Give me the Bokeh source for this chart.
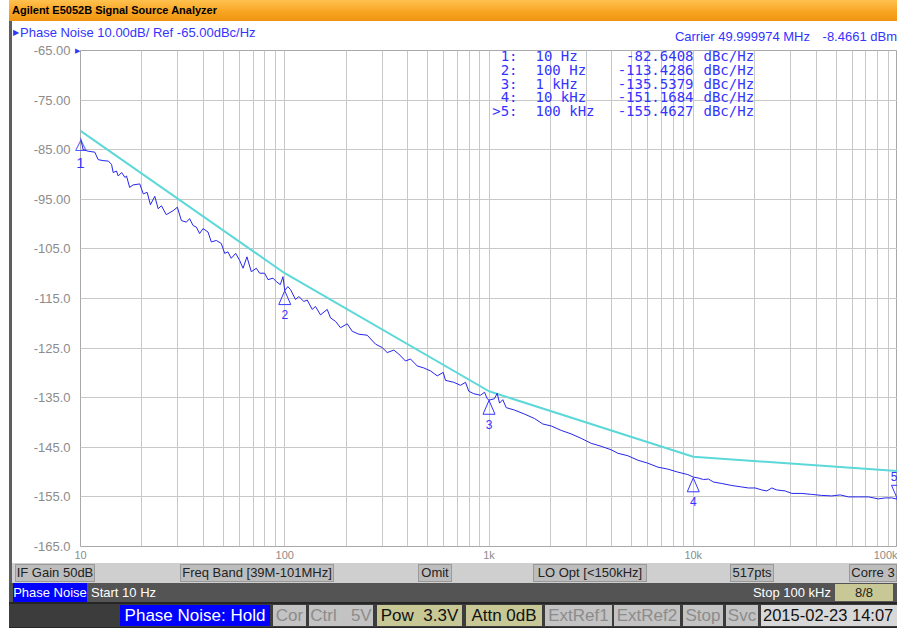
from bokeh.plotting import figure
from bokeh.models import Range1d, FixedTicker, Label, PolyAnnotation, Div
from bokeh.layouts import column, row
from bokeh.embed import file_html
from bokeh.resources import INLINE

# ---------------- data ----------------
trace_freq_hz = [
    10, 10.3, 10.9, 11.75, 12.2, 12.9, 13.7, 14.2, 14.45, 15.0, 15.3, 15.9, 16.5, 16.8,
    17.4, 18.1, 19.5, 20.3, 21.2, 22.0, 23.1, 24.0, 24.9, 26.3, 28.4, 29.8, 31.2, 33.0,
    34.2, 35.6, 36.9, 38.3, 39.8, 42.1, 43.7, 46.2, 48.9, 50.8, 52.7, 54.7, 57.5, 60.1,
    62.5, 65.3, 68.6, 72.6, 75.3, 79.7, 82.8, 87.6, 90.9, 95.1, 98.0, 100,
    103.5, 106.7, 112.9, 117.2, 124, 128.8, 136.3, 141.4, 149.6, 161.4, 167.5, 177.2,
    187.5, 202.2, 213.9, 230.4, 253.3, 278.3, 300.1, 317.5, 342, 361.8, 390.1, 412.8,
    445.3, 479.6, 517.2, 557.8, 596.9, 612.4, 672.6, 725.4, 767.4, 796.4, 842.6, 908.7,
    950.7, 980, 1000,
    1064, 1097, 1126, 1168, 1214, 1334, 1492, 1671, 1834, 2016, 2257, 2526, 2828, 3166,
    3543, 3966, 4272, 4783, 5353, 5992, 6707, 7507, 8402, 9404, 10000,
    10610, 11226, 11874, 12565, 13793, 15443, 17284, 18645, 20110, 21659, 22916, 24243,
    25645, 28187, 30369, 33993, 38048, 42590, 47670, 52400, 57544, 64417, 72110, 80723,
    87096, 93800, 100000,
]
trace_dbc_hz = [
    -82.6, -85.0, -85.3, -85.5, -87.0, -87.2, -87.3, -88.0, -89.6, -89.3, -90.3, -89.6, -90.6, -90.3,
    -92.6, -92.1, -91.9, -93.9, -93.6, -96.1, -94.4, -96.9, -96.3, -98.1, -97.3, -96.6, -99.3, -99.6,
    -98.9, -100.3, -100.6, -101.9, -100.9, -101.6, -103.6, -103.3, -103.9, -105.9, -105.6, -106.9, -105.9, -107.3,
    -108.9, -106.6, -109.6, -108.9, -109.9, -109.9, -111.2, -110.9, -111.6, -112.2, -110.6, -113.4,
    -112.6, -113.2, -115.2, -114.6, -115.6, -115.3, -117.2, -116.6, -118.3, -117.2, -118.9, -119.6,
    -120.9, -120.1, -121.6, -122.2, -122.4, -124.2, -124.9, -125.9, -125.4, -126.2, -127.6, -127.2,
    -128.6, -129.0, -129.6, -130.6, -129.9, -131.5, -131.9, -132.5, -131.9, -133.7, -134.2, -134.5,
    -133.9, -135.2, -135.5,
    -135.2, -134.1, -136.1, -135.4, -137.0, -137.5, -138.3, -139.2, -140.3, -140.7, -141.6, -142.3, -143.2, -144.2,
    -144.8, -145.5, -146.2, -146.7, -147.6, -148.2, -149.0, -149.4, -150.0, -150.5, -151.0,
    -151.2, -151.5, -151.4, -152.0, -152.3, -152.7, -153.0, -153.2, -153.2, -153.6, -153.8, -153.2,
    -153.6, -153.8, -154.3, -154.3, -154.5, -154.7, -154.8, -154.6, -155.0, -155.0, -155.0, -155.4,
    -155.2, -155.2, -155.46,
]
limit_freq_hz = [10, 100, 1000, 10000, 100000]
limit_dbc_hz = [-81.2, -109.9, -133.7, -146.9, -149.8]

marker_ids = ["1", "2", "3", "4", "5"]
marker_rows = ["1:", "2:", "3:", "4:", ">5:"]
marker_freq_hz = [10, 100, 1000, 10000, 100000]
marker_freq_text = ["10 Hz", "100 Hz", "1 kHz", "10 kHz", "100 kHz"]
marker_dbc_hz = [-82.6408, -113.4286, -135.5379, -151.1684, -155.4627]
marker_val_text = ["-82.6408", "-113.4286", "-135.5379", "-151.1684", "-155.4627"]

y_ticks = [-65, -75, -85, -95, -105, -115, -125, -135, -145, -155, -165]
y_tick_labels = ["-65.00", "-75.00", "-85.00", "-95.00", "-105.0", "-115.0", "-125.0",
                 "-135.0", "-145.0", "-155.0", "-165.0"]
x_ticks = [10, 100, 1000, 10000, 100000]
x_tick_labels = ["10", "100", "1k", "10k", "100k"]

# ---------------- styles ----------------
BLUE = "#3434ff"
GRID = "#c8c8c8"
FONT = "Liberation Sans"
MONO = "DejaVu Sans Mono"

FRAME_W, FRAME_H = 817, 500
PX_PER_DEC = FRAME_W / 4.0
PX_PER_DB = FRAME_H / 100.0

p = figure(width=885, height=519, x_axis_type="log",
           x_range=Range1d(10, 100000), y_range=Range1d(-165, -65),
           output_backend="svg", toolbar_location=None,
           min_border_left=68, min_border_right=0, min_border_top=6, min_border_bottom=13,
           background_fill_color="white", border_fill_color="white",
           outline_line_color="#a8a8a8")

minor = [m * d for d in (10, 100, 1000, 10000) for m in range(2, 10)]
p.xaxis[0].ticker = FixedTicker(ticks=x_ticks, minor_ticks=minor)
p.xgrid[0].ticker = FixedTicker(ticks=x_ticks, minor_ticks=minor)
p.yaxis[0].ticker = FixedTicker(ticks=y_ticks)
p.ygrid[0].ticker = FixedTicker(ticks=y_ticks)
p.xgrid.grid_line_color = GRID
p.xgrid.minor_grid_line_color = GRID
p.ygrid.grid_line_color = GRID


def plain(ax, color="#8c8c8c", size="13px", standoff=10):
    ax.axis_line_color = None
    ax.major_tick_line_color = None
    ax.minor_tick_line_color = None
    ax.major_tick_out = 0
    ax.major_tick_in = 0
    ax.minor_tick_out = 0
    ax.minor_tick_in = 0
    ax.major_label_text_color = color
    ax.major_label_text_font = FONT
    ax.major_label_text_font_size = size
    ax.major_label_standoff = standoff


plain(p.xaxis[0], size="11px", standoff=2)
p.xaxis[0].major_label_overrides = dict(zip(x_ticks, x_tick_labels))
plain(p.yaxis[0], size="13px", standoff=10)
p.yaxis[0].major_label_overrides = dict(zip(y_ticks, y_tick_labels))

# reference-level pointer and marker 1 live in the left side panel (not clipped by the frame)
p.add_layout(Label(x=10, y=y_ticks[0], text="▶", text_align="right", text_baseline="middle",
                   text_color=BLUE, text_font="DejaVu Sans", text_font_size="7px"), "left")
p.add_layout(Label(x=marker_freq_hz[0], y=marker_dbc_hz[0], y_offset=-15,
                   text="△\n" + marker_ids[0], text_align="center", text_baseline="middle",
                   text_line_height=1.15, text_color=BLUE, text_font=FONT,
                   text_font_size="15px"), "left")

# traces
p.line(limit_freq_hz, limit_dbc_hz, line_color="#5cd8d8", line_width=2)
p.line(trace_freq_hz, trace_dbc_hz, line_color="#2626ea", line_width=1)

# marker triangles 2..5
hw = 6 / PX_PER_DEC
th = 14 / PX_PER_DB
for i, (f, v) in enumerate(zip(marker_freq_hz, marker_dbc_hz)):
    if i == 0:
        continue
    direction = -1 if i < 4 else 1
    xs = [f * 10 ** (-hw), f, f * 10 ** hw]
    ys = [v + direction * th, v, v + direction * th]
    p.add_layout(PolyAnnotation(xs=xs, ys=ys, fill_alpha=0, line_color=BLUE, line_alpha=1.0,
                                line_width=1))
    align = "right" if i == 4 else "center"
    p.add_layout(Label(x=f, y=v, text=marker_ids[i], y_offset=(-24 if i < 4 else 23),
                       text_align=align, text_baseline="middle", text_color=BLUE,
                       text_font=FONT, text_font_size="12px"))


def lab(x, y, text, size="14px", color=BLUE, font=MONO, align="left"):
    p.add_layout(Label(x=x, y=y, x_units="screen", y_units="screen", text=text,
                       text_align=align, text_baseline="middle", text_color=color,
                       text_font=font, text_font_size=size))


row_y = [491, 477, 463, 450, 436]
for i in range(5):
    lab(437, row_y[i], marker_rows[i], align="right")
    lab(455, row_y[i], marker_freq_text[i])
    lab(613, row_y[i], marker_val_text[i], align="right")
    lab(623, row_y[i], "dBc/Hz")


# ---------------- window chrome (title + header, status bars) ----------------
def box(left, top, w, h, bg, color, text, size, align="center", extra=""):
    return (f'<div style="position:absolute;left:{left}px;top:{top}px;width:{w}px;height:{h}px;'
            f'line-height:{h}px;background:{bg};color:{color};font-size:{size}px;text-align:{align};'
            f'white-space:pre;overflow:hidden;box-sizing:border-box;{extra}">{text}</div>')


W = 897
TOP_H = 44
top_parts = [
    box(9, 0, W - 9, 21, "linear-gradient(#ffc24f,#f8a522 55%,#ef9410)", "#000",
        "Agilent E5052B Signal Source Analyzer", 11, "left", "font-weight:bold;padding-left:3px;"),
    box(9, 21, 3, TOP_H - 21, "#5e5e5e", "#000", "", 13),
    box(13, 26, 8, 14, "transparent", BLUE, "▶", 8, "left", "line-height:14px;"),
    box(20, 26, 300, 14, "transparent", BLUE, "Phase Noise 10.00dB/ Ref -65.00dBc/Hz", 13, "left",
        "line-height:14px;"),
    box(660, 30, 150, 14, "transparent", BLUE, "Carrier 49.999974 MHz", 13, "right", "line-height:14px;"),
    box(807, 30, 90, 14, "transparent", BLUE, "-8.4661 dBm", 13, "right", "line-height:14px;"),
]
top_html = (f'<div style="position:relative;width:{W}px;height:{TOP_H}px;background:#fff;'
            f'font-family:\'{FONT}\';">' + "".join(top_parts) + '</div>')
top_div = Div(text=top_html, width=W, height=TOP_H, margin=0, styles={"overflow": "hidden"})

side_div = Div(text="", width=12, height=519, margin=0,
               styles={"background": "linear-gradient(to right,#fff 0,#fff 9px,#5e5e5e 9px,#5e5e5e 100%)"})

KH = "#c8c896"
GR = "#c3c3c3"
B1 = "border:1px solid #9a9a9a;line-height:16px;"
parts = [box(0, 0, W, 20, "#cfcfcf", "#000", "", 13), box(0, 0, 9, 20, "#fff", "#000", "", 13),
         box(9, 0, 3, 20, "#5e5e5e", "#000", "", 13)]
for left, w, t in [(15, 80, "IF Gain 50dB"), (180, 154, "Freq Band [39M-101MHz]"), (418, 34, "Omit"),
                   (533, 114, "LO Opt [&lt;150kHz]"), (730, 44, "517pts"), (849, 48, "Corre 3")]:
    parts.append(box(left, 1, w, 18, "#bdbdbd", "#222", t, 13, "center", B1))
parts.append(box(9, 20, W - 9, 19, "#545454", "#fff", "", 13))
parts.append(box(13, 20, 74, 19, "#0000ff", "#fff", "Phase Noise", 13))
parts.append(box(91, 20, 120, 19, "transparent", "#fff", "Start 10 Hz", 13, "left"))
parts.append(box(708, 20, 123, 19, "transparent", "#fff", "Stop 100 kHz", 13, "right"))
parts.append(box(835, 21, 58, 17, KH, "#222", "8/8", 13))
parts.append(box(9, 39, W - 9, 2, "#262626", "#fff", "", 13))
parts.append(box(9, 41, W - 9, 23, "#3c3c3c", "#fff", "", 13))
for left, w, bg, col, t, al in [(120, 150, "#0000ff", "#fff", "Phase Noise: Hold", "center"),
                                (273, 33, GR, "#8c8c8c", "Cor", "center"),
                                (309, 64, GR, "#8c8c8c", "Ctrl   5V", "center"),
                                (377, 85, KH, "#111", "Pow  3.3V", "center"),
                                (466, 76, KH, "#111", "Attn 0dB", "center"),
                                (545, 67, GR, "#8c8c8c", "ExtRef1", "center"),
                                (614, 66, GR, "#8c8c8c", "ExtRef2", "center"),
                                (683, 40, GR, "#8c8c8c", "Stop", "center"),
                                (726, 32, GR, "#8c8c8c", "Svc", "center"),
                                (761, 136, "#d8d8d8", "#111", "2015-02-23 14:07", "left")]:
    parts.append(box(left, 42, w, 21, bg, col, t, 17 if al == "center" else 16.5, al,
                     "padding-left:2px;" if al == "left" else ""))
parts.append(box(9, 64, W - 9, 1, "#262626", "#fff", "", 13))
status_html = (f'<div style="position:relative;width:{W}px;height:65px;font-family:\'{FONT}\';">'
               + "".join(parts) + '</div>')
status_div = Div(text=status_html, width=W, height=65, margin=0, styles={"overflow": "hidden"})

layout = column(top_div, row(side_div, p, spacing=0), status_div, spacing=0)

open("out.html", "w").write(file_html(layout, INLINE))
